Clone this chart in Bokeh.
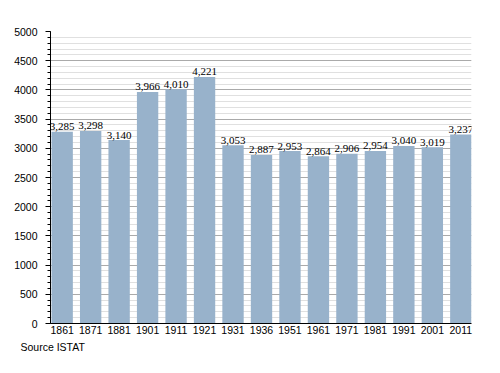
from bokeh.plotting import figure
from bokeh.models import Range1d, FixedTicker, Title, ColumnDataSource
from bokeh.embed import file_html
from bokeh.resources import INLINE

years = ["1861", "1871", "1881", "1901", "1911", "1921", "1931", "1936",
         "1951", "1961", "1971", "1981", "1991", "2001", "2011"]
population = [3285, 3298, 3140, 3966, 4010, 4221, 3053, 2887,
              2953, 2864, 2906, 2954, 3040, 3019, 3237]
value_labels = [f"{v:,}" for v in population]
y_ticks = list(range(0, 5001, 500))
y_minor = list(range(0, 5001, 100))
source_note = "Source ISTAT"

idx = list(range(len(years)))
src = ColumnDataSource(dict(x=idx, top=population, lab=value_labels))

FONT = "Liberation Sans"
BAR = "#98b2cb"

p = figure(width=484, height=357, output_backend="svg", toolbar_location=None,
           x_range=Range1d(-0.41, len(years) - 1 + 0.375), y_range=Range1d(0, 5000),
           min_border_left=50, min_border_right=13, min_border_top=31, min_border_bottom=34)
p.outline_line_color = None
p.background_fill_color = "white"
p.border_fill_color = "white"

p.vbar(x="x", top="top", width=0.75, source=src, fill_color=BAR, line_color=None)
p.text(x="x", y="top", text="lab", source=src, text_align="center",
       text_baseline="alphabetic", y_offset=-5, text_font_size="11px",
       text_color="black", text_font=FONT)

# x axis
p.xaxis.ticker = FixedTicker(ticks=idx)
p.xaxis.major_label_overrides = {i: y for i, y in enumerate(years)}
p.xaxis.major_tick_line_color = None
p.xaxis.minor_tick_line_color = None
p.xaxis.major_tick_out = 0
p.xaxis.major_tick_in = 0
p.xaxis.axis_line_color = "black"
p.xaxis.major_label_standoff = 2
p.xaxis.major_label_text_font = FONT
p.xaxis.major_label_text_font_size = "10.5px"
p.xaxis.major_label_text_color = "black"
p.xgrid.grid_line_color = None

# y axis
p.yaxis.ticker = FixedTicker(ticks=y_ticks, minor_ticks=y_minor)
p.yaxis.axis_line_color = "black"
p.yaxis.major_tick_line_color = "black"
p.yaxis.major_tick_out = 5
p.yaxis.major_tick_in = 0
p.yaxis.minor_tick_line_color = "black"
p.yaxis.minor_tick_out = 3
p.yaxis.minor_tick_in = 0
p.yaxis.major_label_standoff = 8
p.yaxis.major_label_text_font = FONT
p.yaxis.major_label_text_font_size = "10.5px"
p.yaxis.major_label_text_color = "black"
p.ygrid.grid_line_color = "#aaaaaa"
p.ygrid.minor_grid_line_color = "#e0e0e0"

p.add_layout(Title(text=source_note, align="left", offset=-30, standoff=5,
                   text_font=FONT, text_font_size="10.5px", text_font_style="normal",
                   text_color="black"), "below")

open("out.html", "w").write(file_html(p, INLINE))
